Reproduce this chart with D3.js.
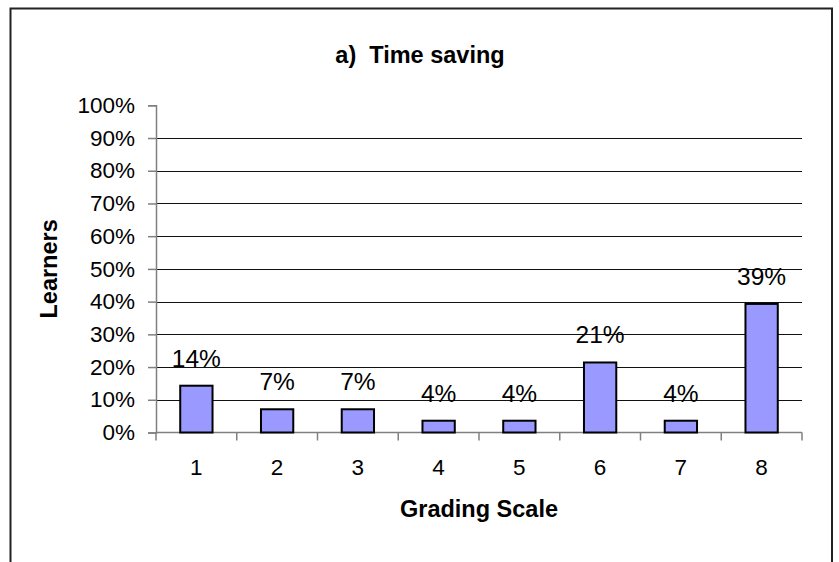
<!DOCTYPE html>
<html>
<head>
<meta charset="utf-8">
<script src="https://cdn.jsdelivr.net/npm/d3@7"></script>
<style>
  body { margin: 0; background: #fff; }
  svg { display: block; font-family: Arial, "Liberation Sans", sans-serif; }
</style>
</head>
<body>
<svg width="839" height="562"></svg>
<script>
// data
const categories = ["1", "2", "3", "4", "5", "6", "7", "8"]
const values = [14.3, 7.1, 7.1, 3.6, 3.6, 21.4, 3.6, 39.3]
const yTicks = [0, 10, 20, 30, 40, 50, 60, 70, 80, 90, 100]
const title = "a)  Time saving"
const xTitle = "Grading Scale"
const yTitle = "Learners"

var svg = d3.select("svg"),
  width = +svg.attr("width"),
  height = +svg.attr("height")

let plot = { left: 156, right: 802, top: 105.3, bottom: 432.5 }

// outer chart frame (bottom runs past the picture)
svg.append("rect")
  .attr("x", 10.5).attr("y", 8.5)
  .attr("width", 821.5).attr("height", 600)
  .attr("fill", "#fff")
  .attr("stroke", "#222")
  .attr("stroke-width", 2)

var x = d3.scaleBand()
  .domain(categories)
  .range([plot.left, plot.right])
  .paddingInner(0.6)
  .paddingOuter(0.3)

var y = d3.scaleLinear()
  .domain([0, 100])
  .range([plot.bottom, plot.top])

// gridlines (no line at 100%)
svg.append("g")
  .selectAll("line")
  .data(yTicks.filter(t => t > 0 && t < 100))
  .enter()
  .append("line")
  .attr("x1", plot.left).attr("x2", plot.right)
  .attr("y1", d => Math.round(y(d)) + 0.5)
  .attr("y2", d => Math.round(y(d)) + 0.5)
  .attr("stroke", "#111")
  .attr("stroke-width", 1)

// y axis
let yAxis = svg.append("g")
  .attr("transform", `translate(${plot.left},0)`)
  .call(d3.axisLeft(y).tickValues(yTicks).tickSize(8).tickPadding(13).tickFormat(d => d + "%"))
yAxis.select(".domain").attr("stroke", "#808080").attr("stroke-width", 1.5)
yAxis.selectAll(".tick line").attr("stroke", "#808080").attr("stroke-width", 1.5)
yAxis.selectAll("text")
  .attr("font-size", 22.5)
  .attr("font-family", "Arial, 'Liberation Sans', sans-serif")
  .attr("fill", "#000")

// x axis with ticks between categories
let xAxis = svg.append("g")
  .attr("transform", `translate(0,${plot.bottom})`)
xAxis.append("line")
  .attr("x1", plot.left).attr("x2", plot.right)
  .attr("y1", 0).attr("y2", 0)
  .attr("stroke", "#808080").attr("stroke-width", 1.5)
let bounds = categories.map(c => x(c) - x.step() * x.paddingInner() / 2)
bounds.push(plot.right)
xAxis.selectAll(".xt")
  .data(bounds)
  .enter()
  .append("line")
  .attr("class", "xt")
  .attr("x1", d => d).attr("x2", d => d)
  .attr("y1", 0).attr("y2", 8)
  .attr("stroke", "#808080").attr("stroke-width", 1.5)
xAxis.selectAll(".xl")
  .data(categories)
  .enter()
  .append("text")
  .attr("class", "xl")
  .attr("x", d => x(d) + x.bandwidth() / 2)
  .attr("y", 42.5)
  .attr("text-anchor", "middle")
  .attr("font-size", 22.5)
  .text(d => d)

// bars
svg.append("g")
  .selectAll("rect")
  .data(values)
  .enter()
  .append("rect")
  .attr("x", (d, i) => x(categories[i]))
  .attr("y", d => y(d))
  .attr("width", x.bandwidth())
  .attr("height", d => y(0) - y(d))
  .attr("fill", "#9999FF")
  .attr("stroke", "#000")
  .attr("stroke-width", 2)

// value labels
svg.append("g")
  .selectAll("text")
  .data(values)
  .enter()
  .append("text")
  .attr("x", (d, i) => x(categories[i]) + x.bandwidth() / 2)
  .attr("y", d => y(d) - 19)
  .attr("text-anchor", "middle")
  .attr("font-size", 24.5)
  .text(d => Math.round(d) + "%")

// titles
svg.append("text")
  .attr("x", 420).attr("y", 63)
  .attr("text-anchor", "middle")
  .attr("font-size", 23.5)
  .attr("font-weight", "bold")
  .style("white-space", "pre")
  .text(title)

svg.append("text")
  .attr("x", (plot.left + plot.right) / 2).attr("y", 517)
  .attr("text-anchor", "middle")
  .attr("font-size", 23.5)
  .attr("font-weight", "bold")
  .text(xTitle)

svg.append("text")
  .attr("transform", `translate(57,${(plot.top + plot.bottom) / 2}) rotate(-90)`)
  .attr("text-anchor", "middle")
  .attr("font-size", 23.5)
  .attr("font-weight", "bold")
  .text(yTitle)
</script>
</body>
</html>
